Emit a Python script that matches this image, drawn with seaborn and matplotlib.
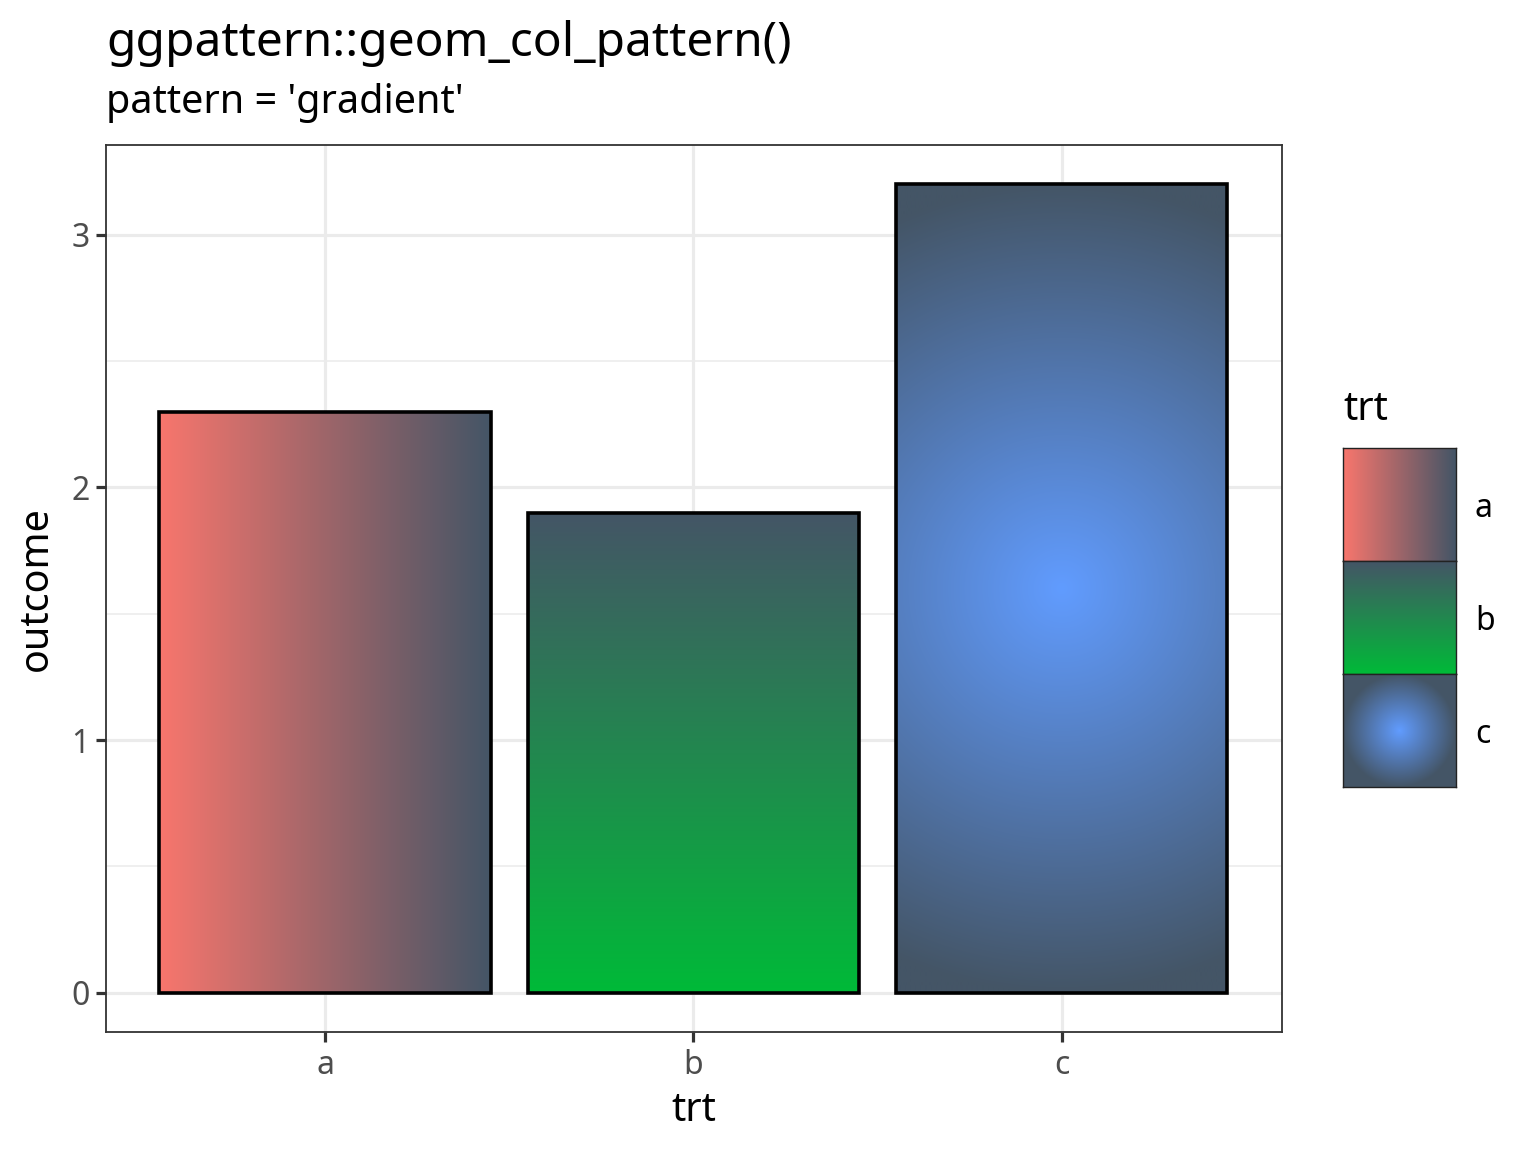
import numpy as np
import pandas as pd
import matplotlib
matplotlib.use('Agg')
import matplotlib.pyplot as plt
from matplotlib.colors import to_rgb
import seaborn as sns

# data
trt = ['a', 'b', 'c']
outcome = [2.3, 1.9, 3.2]
fill_start = ['#F8766D', '#00BA38', '#619CFF']
fill_end = '#445566'
grad_kind = ['horizontal', 'vertical', 'radial']

W, H = 1536, 1152
sns.set_style('white')
plt.rcParams['font.family'] = ['Noto Sans', 'DejaVu Sans']
plt.rcParams['text.color'] = 'black'
plt.rcParams['axes.labelcolor'] = 'black'

fig = plt.figure(figsize=(W / 100, H / 100), dpi=100)
ax = fig.add_axes([106 / W, 1 - 1032 / H, (1282 - 106) / W, (1032 - 145) / H])

df = pd.DataFrame({'trt': trt, 'outcome': outcome})
sns.barplot(data=df, x='trt', y='outcome', order=trt, color='white',
            edgecolor='black', linewidth=2.6, width=0.9, ax=ax, zorder=3)

ax.set_xlim(-0.595, 2.598)
ax.set_ylim(-0.155, 3.355)


def gradient(kind, c0, c1, nx, ny):
    c0 = np.array(to_rgb(c0))
    c1 = np.array(to_rgb(c1))
    xx, yy = np.meshgrid(np.linspace(0, 1, nx), np.linspace(0, 1, ny))
    if kind == 'horizontal':
        t = xx
    elif kind == 'vertical':
        t = yy  # origin lower: bottom is start colour
    else:
        px = (xx - 0.5) * nx
        py = (yy - 0.5) * ny
        t = np.clip(np.sqrt(px ** 2 + py ** 2) / (max(nx, ny) / 2), 0, 1)
    return c0 * (1 - t[..., None]) + c1 * t[..., None]


for patch, kind, c0 in zip(ax.patches, grad_kind, fill_start):
    x0, y0 = patch.get_x(), patch.get_y()
    x1, y1 = x0 + patch.get_width(), y0 + patch.get_height()
    p0 = ax.transData.transform((x0, y0))
    p1 = ax.transData.transform((x1, y1))
    nx, ny = int(abs(p1[0] - p0[0])), int(abs(p1[1] - p0[1]))
    img = gradient(kind, c0, fill_end, nx, ny)
    im = ax.imshow(img, extent=[x0, x1, y0, y1], origin='lower',
                   aspect='auto', zorder=2.5, interpolation='bilinear')
    im.set_clip_path(patch)
    patch.set_facecolor('none')
    patch.set_zorder(3)

ax.set_aspect('auto')
ax.set_xlim(-0.595, 2.598)
ax.set_ylim(-0.155, 3.355)

ax.set_yticks([0, 1, 2, 3])
ax.set_yticks([0.5, 1.5, 2.5], minor=True)
ax.grid(True, which='major', color='#EBEBEB', linewidth=2.3, zorder=0)
ax.grid(True, which='minor', axis='y', color='#EBEBEB', linewidth=1.15, zorder=0)
ax.set_axisbelow(True)
for s in ax.spines.values():
    s.set_color('#333333')
    s.set_linewidth(1.3)
    s.set_visible(True)
ax.tick_params(which='major', length=7, width=2.3, color='#333333',
               labelsize=23, labelcolor='#4D4D4D', pad=5,
               left=True, bottom=True)
ax.tick_params(which='minor', length=0)
ax.set_xlabel('trt', fontsize=28.5, labelpad=7)
ax.set_ylabel('outcome', fontsize=28.5, labelpad=10)

fig.text(106 / W, 1 - 56 / H, 'ggpattern::geom_col_pattern()', fontsize=34.5,
         ha='left', va='baseline')
fig.text(106 / W, 1 - 113 / H, "pattern = 'gradient'", fontsize=28.5,
         ha='left', va='baseline')

# legend
lx0, lx1 = 1343, 1456
ly0 = 448
key = 113
for i, (lab, kind, c0) in enumerate(zip(trt, grad_kind, fill_start)):
    top = ly0 + i * key
    kax = fig.add_axes([lx0 / W, 1 - (top + key) / H, (lx1 - lx0) / W, key / H])
    kax.imshow(gradient(kind, c0, fill_end, key, key), origin='lower',
               aspect='auto', extent=[0, 1, 0, 1], interpolation='bilinear')
    kax.set_xticks([])
    kax.set_yticks([])
    for s in kax.spines.values():
        s.set_color('#222222')
        s.set_linewidth(1.0)
        s.set_visible(True)
    fig.text(1475 / W, 1 - (top + key / 2 + 4) / H, lab, fontsize=23,
             ha='left', va='center')
fig.text(lx0 / W, 1 - 410 / H, 'trt', fontsize=28.5, ha='left', va='center')

fig.savefig('out.png', dpi=100)
